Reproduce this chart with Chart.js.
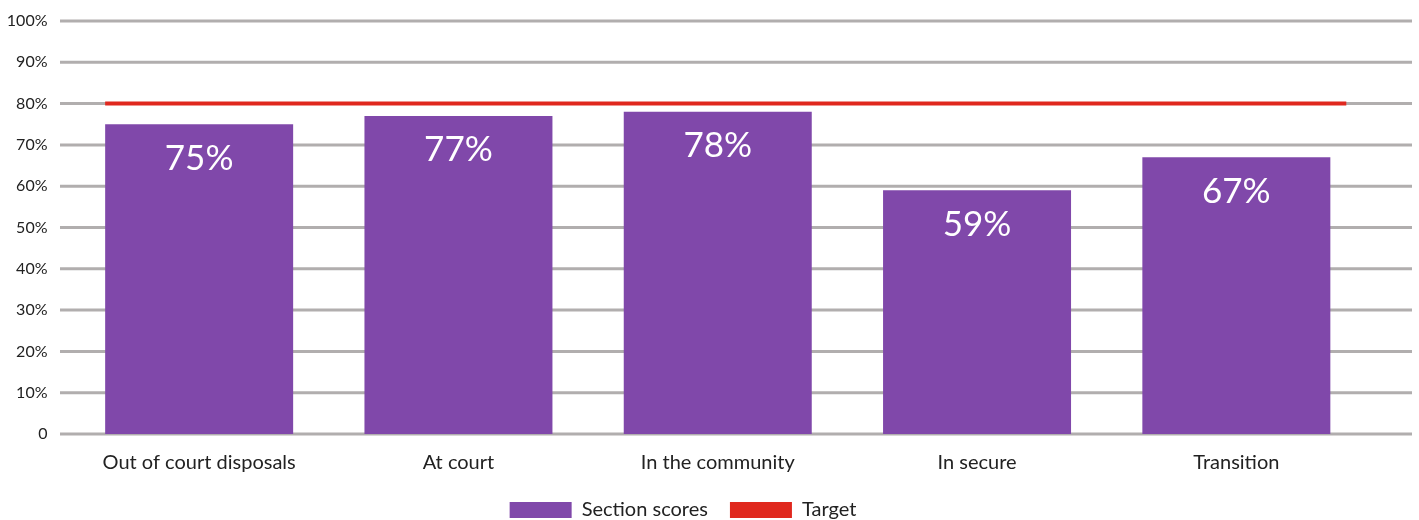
<!DOCTYPE html>
<html lang="en">
<head>
    <meta charset="UTF-8">
    <title>Section scores against target</title>
    <script src="https://cdn.jsdelivr.net/npm/chart.js"></script>
    <style>
        html, body { margin: 0; padding: 0; background: #fff; }
        #wrap { width: 1419px; height: 520px; }
    </style>
</head>
<body>
<div id="wrap"><canvas id="scoreChart"></canvas></div>
<script>
    const categories = ['Out of court disposals', 'At court', 'In the community', 'In secure', 'Transition'];
    const sectionScores = [75, 77, 78, 59, 67];
    const targetValue = 80;
    // target bar runs from the left edge of the first bar to just past the last one (category units)
    const targetSpan = [-0.3625, 4.424];
    const yTicks = [0, 10, 20, 30, 40, 50, 60, 70, 80, 90, 100];

    const PURPLE = '#8048AA';
    const RED = '#E0281E';
    const GRID = '#B1AEAE';
    const TEXT = '#222222';
    const FONT = 'Lato, "Open Sans", sans-serif';

    // horizontal rules drawn wider than the plot area
    const gridPlugin = {
        id: 'wideGrid',
        beforeDatasetsDraw(chart) {
            const ctx = chart.ctx;
            const y = chart.scales.y;
            ctx.save();
            ctx.strokeStyle = GRID;
            ctx.lineWidth = 3;
            yTicks.forEach(v => {
                const py = y.getPixelForValue(v);
                ctx.beginPath();
                ctx.moveTo(60, py);
                ctx.lineTo(1412, py);
                ctx.stroke();
            });
            ctx.restore();
        }
    };

    // white value labels inside the top of each bar
    const valuePlugin = {
        id: 'barValues',
        afterDatasetsDraw(chart) {
            const ctx = chart.ctx;
            const meta = chart.getDatasetMeta(0);
            ctx.save();
            ctx.fillStyle = '#ffffff';
            ctx.font = '35px ' + FONT;
            ctx.textAlign = 'center';
            ctx.textBaseline = 'middle';
            meta.data.forEach((bar, i) => {
                ctx.fillText(sectionScores[i] + '%', bar.x, bar.y + 34);
            });
            ctx.restore();
        }
    };

    const ctx = document.getElementById('scoreChart').getContext('2d');
    new Chart(ctx, {
        data: {
            labels: categories,
            datasets: [
                {
                    type: 'bar',
                    label: 'Section scores',
                    data: sectionScores,
                    backgroundColor: PURPLE,
                    grouped: false,
                    barPercentage: 0.725,
                    categoryPercentage: 1,
                    order: 2
                },
                {
                    type: 'line',
                    label: 'Target',
                    xAxisID: 'xt',
                    data: targetSpan.map(x => ({ x: x, y: targetValue })),
                    borderColor: RED,
                    backgroundColor: RED,
                    borderWidth: 4,
                    pointRadius: 0,
                    order: 1
                }
            ]
        },
        options: {
            responsive: true,
            maintainAspectRatio: false,
            animation: false,
            layout: {
                padding: { top: 21, right: 53, bottom: -10, left: 0 }
            },
            scales: {
                x: {
                    type: 'category',
                    offset: true,
                    afterFit: s => { s.height -= 14; },
                    grid: { display: false, drawTicks: false },
                    border: { display: false },
                    ticks: {
                        color: TEXT,
                        font: { family: FONT, size: 20 },
                        padding: 17,
                        maxRotation: 0
                    }
                },
                xt: {
                    type: 'linear',
                    display: false,
                    min: -0.5,
                    max: 4.5
                },
                y: {
                    min: 0,
                    max: 100,
                    afterFit: s => { s.width = 69.5; },
                    afterBuildTicks: s => { s.ticks = yTicks.map(v => ({ value: v })); },
                    // tick marks are hidden; their length only spaces the labels off the plot
                    grid: { display: false, drawTicks: true, tickLength: 22 },
                    border: { display: false },
                    ticks: {
                        color: TEXT,
                        font: { family: FONT, size: 16 },
                        padding: 0,
                        callback: v => v === 0 ? '0' : v + '%'
                    }
                }
            },
            plugins: {
                tooltip: { enabled: false },
                legend: {
                    position: 'bottom',
                    labels: {
                        color: TEXT,
                        font: { family: FONT, size: 20 },
                        boxWidth: 62,
                        boxHeight: 16,
                        padding: 22,
                        sort: (a, b) => a.datasetIndex - b.datasetIndex,
                        generateLabels(chart) {
                            return Chart.defaults.plugins.legend.labels.generateLabels(chart).map(item => {
                                item.lineWidth = 0;
                                return item;
                            });
                        }
                    }
                }
            }
        },
        plugins: [gridPlugin, valuePlugin]
    });
</script>
</body>
</html>
